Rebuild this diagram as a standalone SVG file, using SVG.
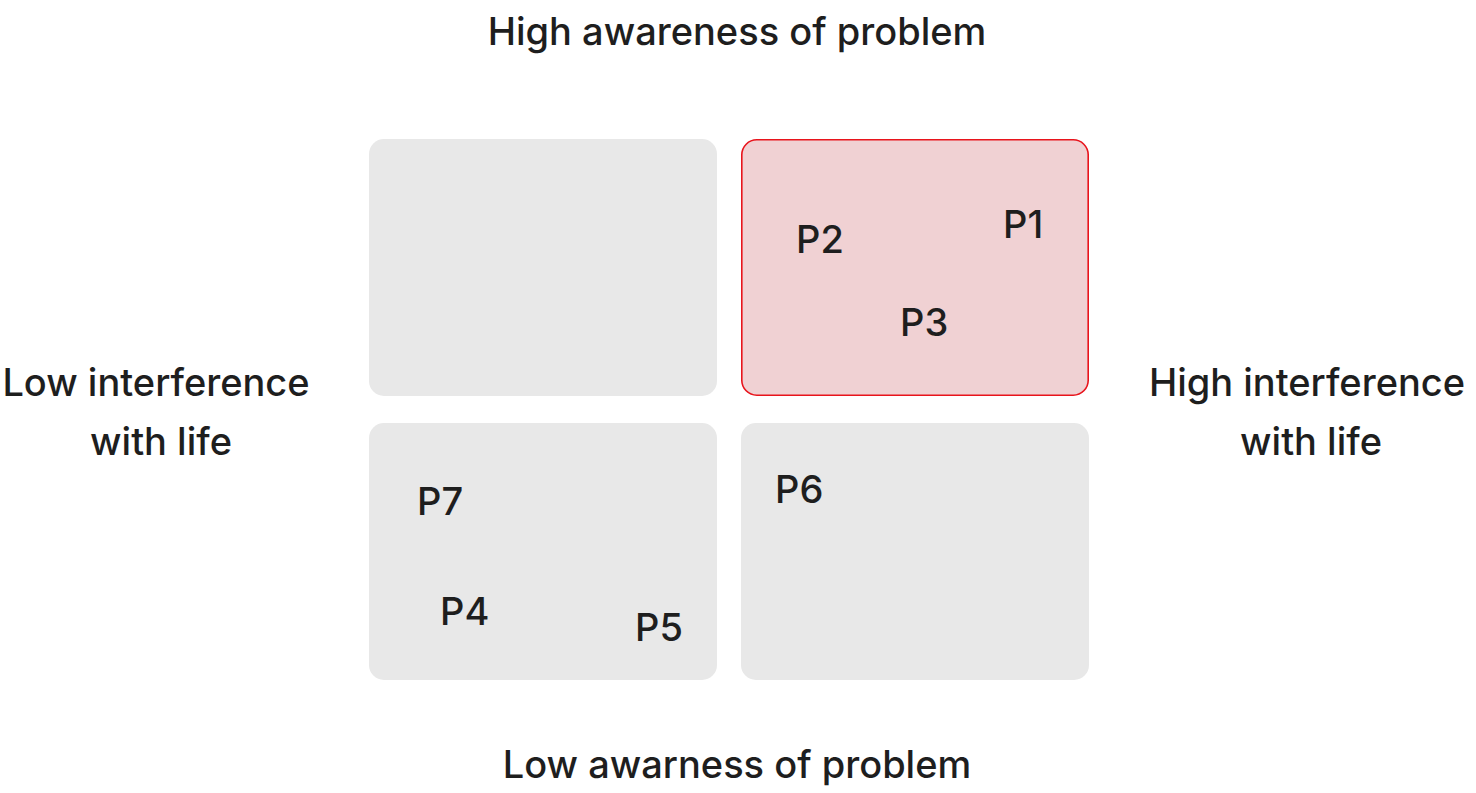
<svg xmlns="http://www.w3.org/2000/svg" width="1476" height="793" viewBox="0 0 1476 793">
<style>
text{font-family:Inter,"Liberation Sans",sans-serif;fill:#1e1e1e;font-weight:500;}
.axis{font-size:38px;}
.lbl{font-size:38px;}
.q{fill:#e8e8e8;}
.hi{fill:#f0d1d3;stroke:#e8141c;stroke-width:1.6;}
</style>
<rect width="1476" height="793" fill="#ffffff"/>
<g id="axis-labels">
<text class="axis" x="737" y="45" text-anchor="middle">High awareness of problem</text>
<text class="axis" x="737" y="778" text-anchor="middle">Low awarness of problem</text>
<text class="axis" x="156" y="396" text-anchor="middle">Low interference</text>
<text class="axis" x="161" y="455" text-anchor="middle">with life</text>
<text class="axis" x="1307" y="396" text-anchor="middle">High interference</text>
<text class="axis" x="1311" y="455" text-anchor="middle">with life</text>
</g>
<g id="q-top-left"><rect class="q" x="369" y="139" width="348" height="257" rx="15"/></g>
<g id="q-top-right">
<rect class="hi" x="741.8" y="139.8" width="346.4" height="255.4" rx="15"/>
<text class="lbl" x="796" y="253">P2</text>
<text class="lbl" x="1003" y="238">P1</text>
<text class="lbl" x="900" y="336">P3</text>
</g>
<g id="q-bottom-left">
<rect class="q" x="369" y="423" width="348" height="257" rx="15"/>
<text class="lbl" x="417" y="515">P7</text>
<text class="lbl" x="440" y="625">P4</text>
<text class="lbl" x="635" y="641">P5</text>
</g>
<g id="q-bottom-right">
<rect class="q" x="741" y="423" width="348" height="257" rx="15"/>
<text class="lbl" x="775" y="503">P6</text>
</g>
<g id="connectors"></g>
</svg>
